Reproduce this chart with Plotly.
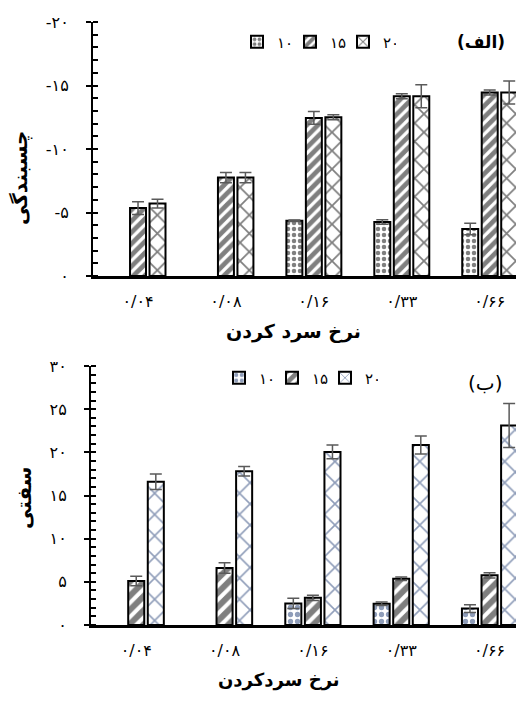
import plotly.graph_objects as go

# ---------------- data ----------------
categories = ["۰/۰۴", "۰/۰۸", "۰/۱۶", "۰/۳۳", "۰/۶۶"]
series_names = ["۱۰", "۱۵", "۲۰"]

# (الف) adhesiveness (negative values)
adh_10 = [None, None, -4.35, -4.25, -3.7]
adh_15 = [-5.35, -7.75, -12.45, -14.15, -14.45]
adh_20 = [-5.7, -7.75, -12.5, -14.15, -14.45]
adh_10_err = [0, 0, 0.05, 0.18, 0.45]
adh_15_err = [0.5, 0.4, 0.5, 0.2, 0.2]
adh_20_err = [0.35, 0.4, 0.2, 0.9, 0.9]

# (ب) hardness
hard_10 = [None, None, 2.5, 2.45, 1.9]
hard_15 = [5.1, 6.6, 3.15, 5.35, 5.75]
hard_20 = [16.6, 17.8, 20.05, 20.85, 23.1]
hard_10_err = [0, 0, 0.6, 0.2, 0.45]
hard_15_err = [0.55, 0.6, 0.3, 0.2, 0.3]
hard_20_err = [0.9, 0.55, 0.8, 1.05, 2.55]

adh_tickvals = [0, -5, -10, -15, -20]
adh_ticktext = ["۰", "-۵", "-۱۰", "-۱۵", "-۲۰"]
hard_tickvals = [0, 5, 10, 15, 20, 25, 30]
hard_ticktext = ["۰", "۵", "۱۰", "۱۵", "۲۰", "۲۵", "۳۰"]

top_title_x = "نرخ سرد کردن"
top_title_y = "چسبندگی"
bot_title_x = "نرخ سردکردن"
bot_title_y = "سفتی"
top_tag = "(الف)"
bot_tag = "(ب)"

# ---------------- style ----------------
FONT = "DejaVu Sans"
NAVY = "#1f3b73"
ERR_COLOR = "#5a5a5a"

top_patterns = [
    dict(shape=".", fgcolor="black", bgcolor="white", size=6, solidity=0.45),
    dict(shape="/", fgcolor="black", bgcolor="white", size=8, solidity=0.6),
    dict(shape="x", fgcolor="black", bgcolor="white", size=13, solidity=0.25),
]
bot_patterns = [
    dict(shape=".", fgcolor=NAVY, bgcolor="white", size=7, solidity=0.45),
    dict(shape="/", fgcolor="black", bgcolor="white", size=10, solidity=0.6),
    dict(shape="x", fgcolor=NAVY, bgcolor="white", size=15, solidity=0.2),
]

fig = go.Figure()

top_vals = [adh_10, adh_15, adh_20]
top_errs = [adh_10_err, adh_15_err, adh_20_err]
for name, vals, errs, pat in zip(series_names, top_vals, top_errs, top_patterns):
    fig.add_trace(go.Bar(
        x=categories, y=vals, name=name, xaxis="x", yaxis="y", legend="legend",
        marker=dict(color="white", pattern=pat, line=dict(color="black", width=2)),
        error_y=dict(type="data", array=errs, visible=True, color=ERR_COLOR,
                     thickness=1.5, width=6),
    ))

bot_vals = [hard_10, hard_15, hard_20]
bot_errs = [hard_10_err, hard_15_err, hard_20_err]
for name, vals, errs, pat in zip(series_names, bot_vals, bot_errs, bot_patterns):
    fig.add_trace(go.Bar(
        x=categories, y=vals, name=name, xaxis="x2", yaxis="y2", legend="legend2",
        marker=dict(color="white", pattern=pat, line=dict(color="black", width=2)),
        error_y=dict(type="data", array=errs, visible=True, color=ERR_COLOR,
                     thickness=1.5, width=6),
    ))

# page body has an 8px margin: figure drawn from (8, 8); keep page free of scrollbars
OFF = 8
W, H = 524 - OFF, 702 - 2 * OFF


def fx(x):
    return (x - OFF) / W


def fy(y):
    return 1 - (y - OFF) / H


xrange_ = [-0.512, 4.39]

common_x = dict(
    type="category", range=xrange_, showline=True, linecolor="black", linewidth=3,
    ticks="", showgrid=False, zeroline=False, automargin=False,
    tickfont=dict(family=FONT, size=16, color="black"), ticklabelstandoff=9,
)
common_y = dict(
    showline=True, linecolor="black", linewidth=2, showgrid=False, zeroline=False,
    ticks="outside", ticklen=5, tickwidth=1.5, tickcolor="black",
    tickmode="array", automargin=False,
    tickfont=dict(family=FONT, size=16, color="black"), ticklabelstandoff=14,
)

fig.update_layout(
    width=W, height=H,
    margin=dict(l=0, r=0, t=0, b=0),
    paper_bgcolor="white", plot_bgcolor="white",
    barmode="group", bargap=0.335, bargroupgap=0.18,
    font=dict(family=FONT, color="black"),
    xaxis=dict(common_x, domain=[fx(93), 1], anchor="y"),
    yaxis=dict(common_y, domain=[fy(276), fy(22)], anchor="x",
               range=[0, -20], tickvals=adh_tickvals, ticktext=adh_ticktext,
               minor=dict(ticks="inside", ticklen=5, tickwidth=1.5, tickcolor="black",
                          tickmode="linear", tick0=0, dtick=1)),
    xaxis2=dict(common_x, domain=[fx(91), 1], anchor="y2"),
    yaxis2=dict(common_y, domain=[fy(625), fy(366)], anchor="x2",
                range=[0, 30], tickvals=hard_tickvals, ticktext=hard_ticktext,
                minor=dict(ticks="inside", ticklen=5, tickwidth=1.5, tickcolor="black",
                           tickmode="linear", tick0=0, dtick=1)),
    legend=dict(orientation="h", x=fx(237), y=fy(42), xanchor="left", yanchor="middle",
                font=dict(family=FONT, size=15), bgcolor="rgba(0,0,0,0)",
                entrywidth=8, entrywidthmode="pixels", itemwidth=30),
    legend2=dict(orientation="h", x=fx(219), y=fy(378), xanchor="left", yanchor="middle",
                 font=dict(family=FONT, size=15), bgcolor="rgba(0,0,0,0)",
                 entrywidth=8, entrywidthmode="pixels", itemwidth=30),
    showlegend=True,
)


def ann(text, x, y, size=16, bold=True, angle=0):
    t = f"<b>{text}</b>" if bold else text
    fig.add_annotation(text=t, x=fx(x), y=fy(y), xref="paper", yref="paper",
                       showarrow=False, textangle=angle, xanchor="center", yanchor="middle",
                       font=dict(family=FONT, size=size, color="black"))


ann(top_title_x, 293, 332, size=19)
ann(top_title_y, 20, 178, size=20, angle=-90)
ann(bot_title_x, 279, 680, size=18)
ann(bot_title_y, 24, 498, size=20, angle=-90)
ann(top_tag, 481, 42, size=17)
ann(bot_tag, 485, 383, size=20, bold=False)

fig.write_html("out.html")
